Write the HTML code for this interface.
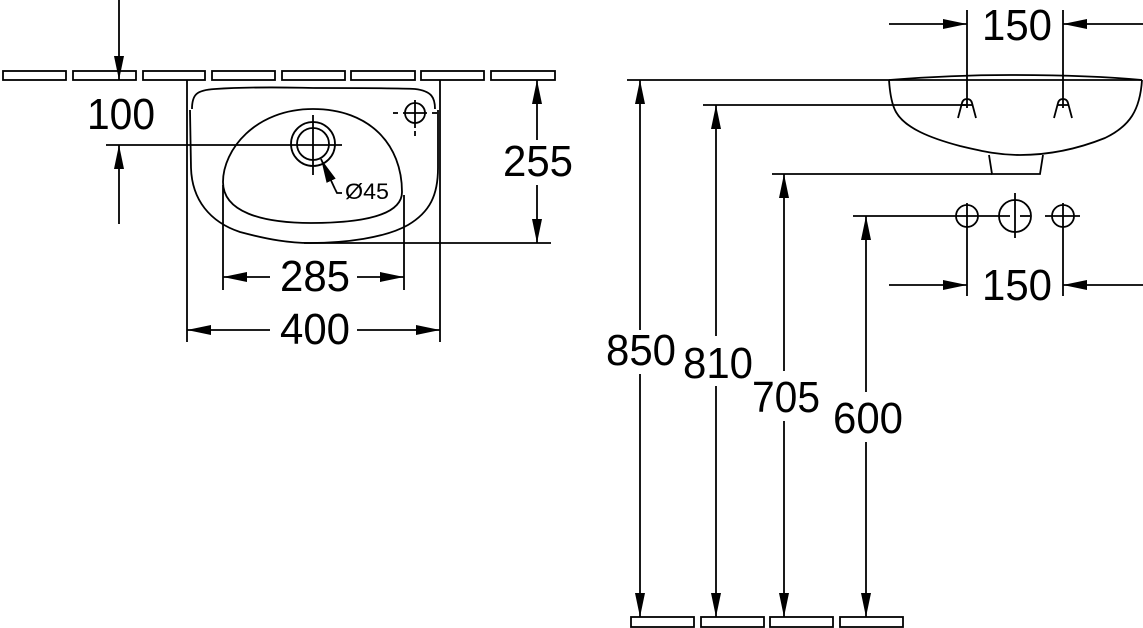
<!DOCTYPE html>
<html><head><meta charset="utf-8"><style>
html,body{margin:0;padding:0;background:#fff;}
svg{display:block;}
text{font-family:"Liberation Sans",sans-serif;fill:#000;}
</style></head><body>
<svg width="1143" height="628" viewBox="0 0 1143 628" xmlns="http://www.w3.org/2000/svg">
<defs>
<marker id="a" viewBox="0 0 24 10" refX="24" refY="5" markerWidth="24" markerHeight="11" markerUnits="userSpaceOnUse" orient="auto-start-reverse"><path d="M0,0 L24,5 L0,10 z" fill="#000"/></marker>
</defs>
<g stroke="#000" stroke-width="1.8" fill="none">
<rect x="3" y="71" width="63" height="9"/>
<rect x="73" y="71" width="63" height="9"/>
<rect x="143" y="71" width="62" height="9"/>
<rect x="212" y="71" width="63" height="9"/>
<rect x="282" y="71" width="63" height="9"/>
<rect x="351" y="71" width="64" height="9"/>
<rect x="421" y="71" width="63" height="9"/>
<rect x="491" y="71" width="64" height="9"/>
<line x1="119" y1="0" x2="119" y2="80" marker-end="url(#a)"/>
<line x1="119" y1="224" x2="119" y2="145" marker-end="url(#a)"/>
<line x1="106" y1="145" x2="342" y2="145"/>
<line x1="187" y1="80" x2="187" y2="342"/>
<line x1="440" y1="80" x2="440" y2="342"/>
<path d="M192 109 C192 95 196 90 215 89 C260 86 300 88 320 88 C360 88 400 88 415 89 C432 91 435 98 435 109"/>
<path d="M190 110 L191 168 C192 200 210 222 240 232 C270 240 290 243 310 243 C345 243 385 238 408 225 C430 212 438 195 438 168 L438 110"/>
<path d="M313 109 C255 109 223 150 223 182 C223 212 262 223 311 223 C360 223 402 216 402 192 C402 145 370 109 313 109 Z"/>
<circle cx="313" cy="144" r="22"/>
<circle cx="313" cy="144" r="16"/>
<line x1="313" y1="115" x2="313" y2="175"/>
<circle cx="415" cy="113" r="10"/>
<line x1="393" y1="113" x2="398" y2="113"/><line x1="403" y1="113" x2="427" y2="113"/><line x1="432" y1="113" x2="437" y2="113"/>
<line x1="415" y1="100" x2="415" y2="128"/><line x1="415" y1="131" x2="415" y2="136"/>
<line x1="335" y1="189" x2="321" y2="159" marker-end="url(#a)"/>
<polyline points="335,189 337,193 342,193"/>
<line x1="537" y1="140" x2="537" y2="80" marker-end="url(#a)"/>
<line x1="537" y1="185" x2="537" y2="243" marker-end="url(#a)"/>
<line x1="304" y1="243" x2="551" y2="243"/>
<line x1="223" y1="185" x2="223" y2="290"/>
<line x1="404" y1="195" x2="404" y2="290"/>
<line x1="270" y1="277" x2="223" y2="277" marker-end="url(#a)"/>
<line x1="357" y1="277" x2="404" y2="277" marker-end="url(#a)"/>
<line x1="270" y1="330" x2="187" y2="330" marker-end="url(#a)"/>
<line x1="357" y1="330" x2="440" y2="330" marker-end="url(#a)"/>
<line x1="967" y1="10" x2="967" y2="108"/>
<line x1="1063" y1="10" x2="1063" y2="108"/>
<line x1="889" y1="24" x2="967" y2="24" marker-end="url(#a)"/>
<line x1="1143" y1="24" x2="1063" y2="24" marker-end="url(#a)"/>
<line x1="627" y1="80" x2="889" y2="80"/>
<path d="M889 80 C940 76 980 75 1010 75 C1060 75 1110 77 1142 80"/>
<path d="M889 80 L1142 80"/>
<path d="M889 80 C890 95 892 105 896 112 C905 128 930 138 960 146 C985 152 1000 155 1020 155 C1050 155 1080 148 1105 138 C1130 126 1140 110 1142 80"/>
<polyline points="989,155 992,174 1040,174 1043,155"/>
<line x1="772" y1="174" x2="992" y2="174"/>
<line x1="703" y1="105" x2="967" y2="105"/>
<path d="M958 118 L962 103 Q963 99 967 99 Q971 99 972 103 L976 118"/>
<line x1="961" y1="105" x2="973" y2="105"/>
<path d="M1054 118 L1058 103 Q1059 99 1063 99 Q1067 99 1068 103 L1072 118"/>
<line x1="1057" y1="105" x2="1069" y2="105"/>
<line x1="853" y1="216" x2="1010" y2="216"/>
<line x1="1020" y1="216" x2="1030" y2="216"/><line x1="1045" y1="216" x2="1080" y2="216"/>
<circle cx="967" cy="216" r="11"/>
<circle cx="1015" cy="216" r="16"/>
<circle cx="1063" cy="216" r="11"/>
<line x1="1015" y1="193" x2="1015" y2="238"/>
<line x1="1063" y1="203" x2="1063" y2="229"/>
<line x1="967" y1="203" x2="967" y2="296"/>
<line x1="1063" y1="229" x2="1063" y2="296"/>
<line x1="889" y1="285" x2="967" y2="285" marker-end="url(#a)"/>
<line x1="1143" y1="285" x2="1063" y2="285" marker-end="url(#a)"/>
<line x1="640" y1="330" x2="640" y2="80" marker-end="url(#a)"/>
<line x1="640" y1="374" x2="640" y2="617" marker-end="url(#a)"/>
<line x1="716" y1="336" x2="716" y2="105" marker-end="url(#a)"/>
<line x1="716" y1="386" x2="716" y2="617" marker-end="url(#a)"/>
<line x1="784" y1="371" x2="784" y2="174" marker-end="url(#a)"/>
<line x1="784" y1="421" x2="784" y2="617" marker-end="url(#a)"/>
<line x1="866" y1="392" x2="866" y2="216" marker-end="url(#a)"/>
<line x1="866" y1="442" x2="866" y2="617" marker-end="url(#a)"/>
<rect x="631" y="617" width="63" height="10"/>
<rect x="701" y="617" width="63" height="10"/>
<rect x="770" y="617" width="63" height="10"/>
<rect x="840" y="617" width="63" height="10"/>
</g>
<g font-size="44">
<text x="87" y="129" textLength="68" lengthAdjust="spacingAndGlyphs">100</text>
<text x="503" y="176" textLength="70" lengthAdjust="spacingAndGlyphs">255</text>
<text x="280" y="291" textLength="70" lengthAdjust="spacingAndGlyphs">285</text>
<text x="280" y="344" textLength="70" lengthAdjust="spacingAndGlyphs">400</text>
<text x="982" y="40" textLength="70" lengthAdjust="spacingAndGlyphs">150</text>
<text x="982" y="300" textLength="70" lengthAdjust="spacingAndGlyphs">150</text>
<text x="606" y="365" textLength="70" lengthAdjust="spacingAndGlyphs">850</text>
<text x="683" y="378" textLength="70" lengthAdjust="spacingAndGlyphs">810</text>
<text x="752" y="412" textLength="68" lengthAdjust="spacingAndGlyphs">705</text>
<text x="833" y="433" textLength="70" lengthAdjust="spacingAndGlyphs">600</text>
</g>
<text x="345" y="199" font-size="22" textLength="44" lengthAdjust="spacingAndGlyphs">Ø45</text>
</svg>
</body></html>
